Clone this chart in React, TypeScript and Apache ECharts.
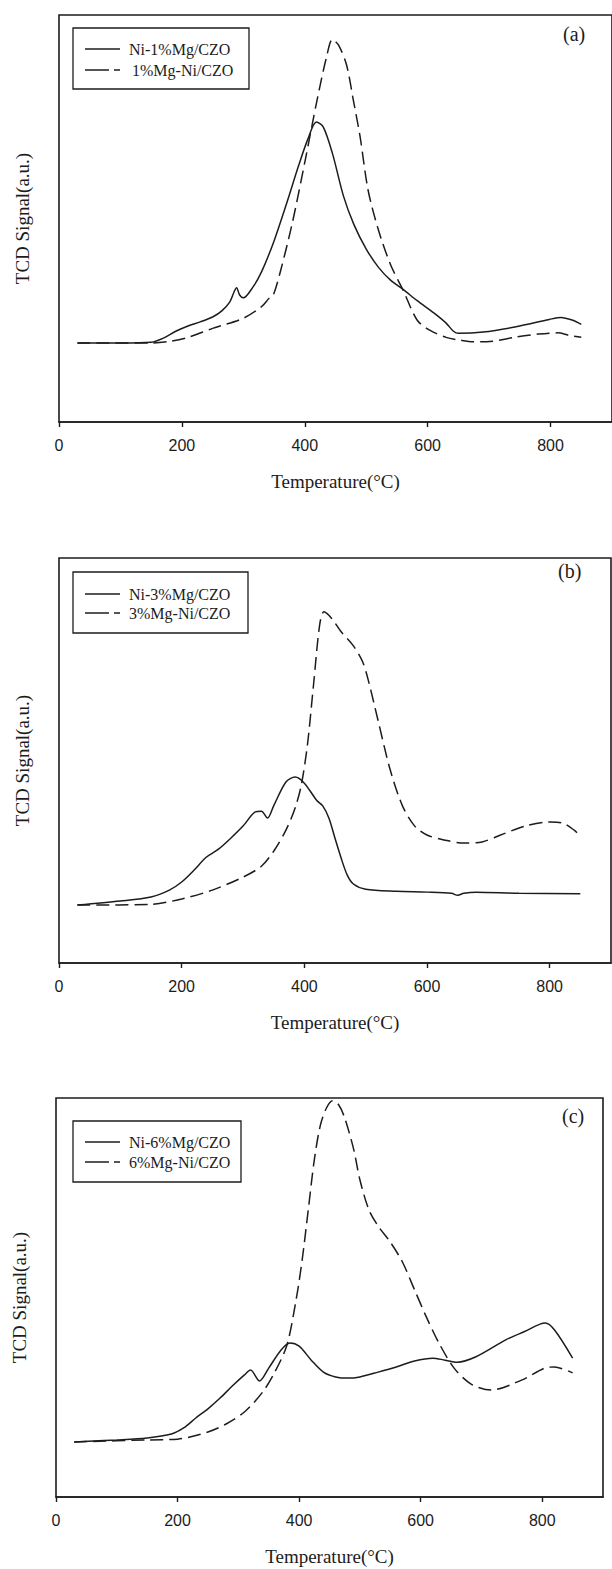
import React, { useEffect, useRef } from "react";
import * as echarts from "echarts";

// ---------- texts ----------
const xTickValues = [0, 200, 400, 600, 800];
const panelLabels = ["(a)", "(b)", "(c)"];
const xAxisTitle = "Temperature(°C)";
const yAxisTitle = "TCD Signal(a.u.)";
const namesA = ["Ni-1%Mg/CZO", "1%Mg-Ni/CZO"];
const namesB = ["Ni-3%Mg/CZO", "3%Mg-Ni/CZO"];
const namesC = ["Ni-6%Mg/CZO", "6%Mg-Ni/CZO"];

// ---------- panel (a) ----------
const tA1 = [30, 100, 150, 170, 190, 210, 230, 250, 265, 278, 285, 289, 294, 300, 315, 330, 350, 370, 390, 405, 419, 430, 445, 463, 480, 500, 520, 540, 560, 583, 610, 630, 642, 650, 690, 744, 798, 817, 836, 850];
const vA1 = [19.4, 19.4, 19.6, 20.6, 22.3, 23.6, 24.6, 25.8, 27.3, 29.5, 32.0, 33.0, 31.2, 30.5, 33.0, 37.0, 44.5, 53.5, 63.0, 69.5, 73.7, 72.5, 66.0, 55.5, 48.5, 42.5, 38.0, 34.8, 32.6, 29.8, 26.8, 24.3, 22.3, 21.8, 22.1, 23.4, 25.2, 25.7, 25.0, 24.0];
const tA2 = [30, 150, 180, 210, 250, 300, 330, 342, 348, 360, 380, 400, 420, 435, 445, 455, 468, 479, 490, 503, 520, 540, 560, 583, 604, 630, 653, 674, 696, 744, 780, 812, 830, 850];
const vA2 = [19.4, 19.4, 19.8, 20.8, 23.0, 25.5, 28.4, 30.4, 30.9, 36.8, 49.1, 63.8, 79.1, 89.4, 94.0, 92.6, 87.7, 79.1, 70.1, 57.0, 47.1, 38.5, 32.4, 25.0, 22.5, 20.8, 20.1, 19.7, 19.7, 20.9, 21.6, 21.9, 21.3, 20.8];

// ---------- panel (b) ----------
const tB1 = [30, 100, 150, 180, 200, 220, 240, 260, 280, 300, 320, 330, 340, 350, 370, 385, 400, 420, 430, 440, 450, 460, 470, 480, 500, 550, 600, 640, 650, 660, 680, 750, 850];
const vB1 = [14.3, 15.3, 16.3, 18.0, 20.0, 22.9, 26.1, 28.1, 30.8, 33.8, 37.3, 37.5, 35.8, 38.8, 44.7, 45.9, 44.4, 40.2, 38.8, 35.8, 30.8, 25.9, 21.7, 19.5, 18.2, 17.7, 17.5, 17.2, 16.7, 17.2, 17.5, 17.2, 17.1];
const tB2 = [30, 150, 200, 250, 300, 330, 350, 370, 385, 395, 405, 415, 425, 432, 445, 460, 480, 495, 505, 520, 540, 560, 580, 600, 630, 660, 690, 720, 760, 800, 820, 840, 850];
const vB2 = [14.3, 14.5, 15.8, 18.0, 21.2, 23.9, 27.6, 32.8, 38.3, 43.9, 53.8, 68.7, 83.5, 86.7, 85.0, 81.8, 78.3, 74.4, 69.4, 60.0, 47.7, 38.8, 33.8, 31.6, 30.3, 29.6, 29.9, 31.6, 33.8, 34.8, 34.6, 32.8, 31.3];

// ---------- panel (c) ----------
const tC1 = [30, 100, 150, 190, 210, 230, 250, 270, 290, 310, 320, 335, 350, 370, 385, 400, 420, 440, 460, 480, 500, 530, 560, 590, 620, 640, 660, 690, 740, 770, 805, 820, 850];
const vC1 = [13.8, 14.3, 14.8, 15.8, 17.3, 19.8, 22.1, 24.8, 27.8, 30.6, 31.8, 29.1, 32.3, 36.8, 38.6, 37.8, 34.3, 31.3, 30.1, 29.8, 30.1, 31.3, 32.6, 34.1, 34.8, 34.3, 33.8, 35.1, 39.4, 41.4, 43.6, 41.9, 34.8];
const tC2 = [30, 150, 200, 250, 280, 310, 340, 360, 380, 395, 405, 415, 425, 435, 445, 455, 465, 475, 490, 500, 515, 530, 550, 570, 590, 610, 630, 655, 683, 716, 766, 804, 820, 850];
const vC2 = [13.8, 14.3, 14.5, 16.3, 18.3, 21.3, 26.3, 31.3, 38.1, 49.4, 59.4, 71.9, 84.5, 93.2, 97.5, 99.3, 98.3, 95.0, 87.0, 79.5, 71.9, 67.9, 63.9, 58.9, 51.9, 44.9, 38.6, 32.3, 28.3, 26.8, 29.3, 32.3, 32.6, 31.1];

const zip = (t: number[], v: number[]) => t.map((x, i) => [x, v[i]]);

const SERIF = "Liberation Serif";
const SANS = "Liberation Sans";
const INK = "#1c1c1c";
const DASH = [13, 6];

const panels = [
  { grid: { left: 59, top: 15, width: 558, height: 407 },
    legendBox: { x: 73, y: 28, w: 176, h: 61 }, rows: [49, 70],
    label: { x: 563, y: 24 }, names: namesA, data: [zip(tA1, vA1), zip(tA2, vA2)] },
  { grid: { left: 59, top: 558, width: 552, height: 405 },
    legendBox: { x: 73, y: 572, w: 175, h: 61 }, rows: [594, 613],
    label: { x: 558, y: 561 }, names: namesB, data: [zip(tB1, vB1), zip(tB2, vB2)] },
  { grid: { left: 56, top: 1098, width: 547, height: 399 },
    legendBox: { x: 73, y: 1121, w: 168, h: 61 }, rows: [1142, 1162],
    label: { x: 562, y: 1106 }, names: namesC, data: [zip(tC1, vC1), zip(tC2, vC2)] },
];

export default function App() {
  const ref = useRef<HTMLDivElement>(null);
  useEffect(() => {
    if (!ref.current) return;
    const chart = echarts.init(ref.current, undefined, { renderer: "svg" });
    const grid: any[] = [];
    const xAxis: any[] = [];
    const yAxis: any[] = [];
    const series: any[] = [];
    const graphic: any[] = [];
    panels.forEach((p, i) => {
      grid.push({ ...p.grid, show: true, borderColor: INK, borderWidth: 1.6, backgroundColor: "transparent" });
      xAxis.push({
        type: "value", gridIndex: i, min: 0, max: 900, interval: 100,
        axisLine: { show: true, onZero: false, lineStyle: { color: INK, width: 1.6 } },
        axisTick: { show: true, inside: false, length: 5, customValues: xTickValues, lineStyle: { color: INK, width: 1.4 } },
        axisLabel: { show: true, customValues: xTickValues, margin: 15, fontFamily: SANS, fontSize: 16, color: INK },
        splitLine: { show: false },
        name: xAxisTitle, nameLocation: "middle", nameGap: 50,
        nameTextStyle: { fontFamily: SERIF, fontSize: 19, color: INK },
      });
      yAxis.push({
        type: "value", gridIndex: i, min: 0, max: 100,
        axisLine: { show: false }, axisTick: { show: false }, axisLabel: { show: false }, splitLine: { show: false },
        name: yAxisTitle, nameLocation: "middle", nameRotate: 90, nameGap: 27,
        nameTextStyle: { fontFamily: SERIF, fontSize: 19, color: INK },
      });
      series.push({
        type: "line", name: p.names[0], xAxisIndex: i, yAxisIndex: i, data: p.data[0],
        showSymbol: false, symbol: "none", smooth: 0.3,
        lineStyle: { color: INK, width: 1.5, type: "solid" },
      });
      series.push({
        type: "line", name: p.names[1], xAxisIndex: i, yAxisIndex: i, data: p.data[1],
        showSymbol: false, symbol: "none", smooth: 0.3,
        lineStyle: { color: INK, width: 1.5, type: DASH },
      });
      // legend box drawn as graphic
      const b = p.legendBox;
      graphic.push({
        type: "rect", shape: { x: b.x, y: b.y, width: b.w, height: b.h },
        style: { fill: "#fff", stroke: INK, lineWidth: 1.3 }, z: 10,
      });
      graphic.push({
        type: "line", shape: { x1: 85, y1: p.rows[0], x2: 120, y2: p.rows[0] },
        style: { stroke: INK, lineWidth: 1.5 }, z: 11,
      });
      graphic.push({
        type: "line", shape: { x1: 85, y1: p.rows[1], x2: 109, y2: p.rows[1] },
        style: { stroke: INK, lineWidth: 1.5 }, z: 11,
      });
      graphic.push({
        type: "line", shape: { x1: 114, y1: p.rows[1], x2: 120, y2: p.rows[1] },
        style: { stroke: INK, lineWidth: 1.5 }, z: 11,
      });
      p.names.forEach((n, k) => {
        graphic.push({
          type: "text", x: k === 1 && i === 0 ? 132 : 129, y: p.rows[k], z: 11,
          style: { text: n, font: `16px "${SERIF}"`, fill: INK, verticalAlign: "middle" },
        });
      });
      graphic.push({
        type: "text", x: p.label.x, y: p.label.y, z: 11,
        style: { text: panelLabels[i], font: `20px "${SERIF}"`, fill: INK },
      });
    });
    chart.setOption({
      animation: false,
      backgroundColor: "#fff",
      grid, xAxis, yAxis, series, graphic,
    });
    return () => chart.dispose();
  }, []);
  return (
    <div
      ref={ref}
      style={{ position: "absolute", left: 0, top: 0, width: 612, height: 1569 }}
    />
  );
}
